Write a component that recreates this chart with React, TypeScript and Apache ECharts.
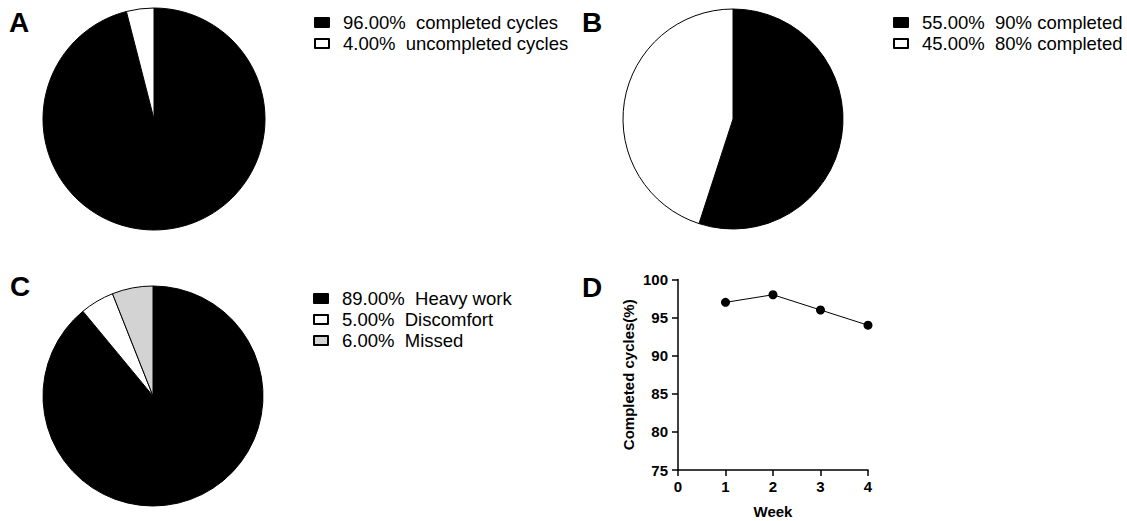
import React, { useEffect, useRef } from "react";
import * as echarts from "echarts";

const pieALabels = ["completed cycles", "uncompleted cycles"];
const pieAValues = [96, 4];
const pieBLabels = ["90% completed", "80% completed"];
const pieBValues = [55, 45];
const pieCLabels = ["Heavy work", "Discomfort", "Missed"];
const pieCValues = [89, 5, 6];
const sliceColors = ["#000000", "#ffffff", "#d3d3d3"];

const weeks = [1, 2, 3, 4];
const completedPct = [97, 98, 96, 94];
const xTicks = [0, 1, 2, 3, 4];
const yTicks = [75, 80, 85, 90, 95, 100];

const FONT = "'Liberation Sans', Arial, Helvetica, sans-serif";

function pieData(labels: string[], values: number[]) {
  return labels.map((n, i) => ({
    name: n,
    value: values[i],
    itemStyle: { color: sliceColors[i], borderColor: "#000", borderWidth: 1 },
  }));
}

function pctLookup(labels: string[], values: number[]) {
  const total = values.reduce((a, b) => a + b, 0);
  const m: Record<string, string> = {};
  labels.forEach((n, i) => {
    m[n] = ((values[i] / total) * 100).toFixed(2) + "%  " + n;
  });
  return m;
}

export default function App() {
  const ref = useRef<HTMLDivElement>(null);
  useEffect(() => {
    if (!ref.current) return;
    const chart = echarts.init(ref.current, undefined, { renderer: "svg" });
    const lookup: Record<string, string> = {
      ...pctLookup(pieALabels, pieAValues),
      ...pctLookup(pieBLabels, pieBValues),
      ...pctLookup(pieCLabels, pieCValues),
    };
    const legendBase = {
      orient: "vertical" as const,
      icon: "rect",
      itemWidth: 14,
      itemHeight: 9,
      itemGap: 2,
      selectedMode: false,
      formatter: (n: string) => lookup[n],
      textStyle: {
        fontFamily: FONT,
        fontSize: 18.5,
        color: "#000",
        padding: [0, 0, 0, 9],
      },
    };
    const labelStyle = {
      fontFamily: FONT,
      fontSize: 28,
      fontWeight: "bold" as const,
      fill: "#000",
    };
    chart.setOption({
      animation: false,
      backgroundColor: "#fff",
      graphic: [
        { type: "text", left: 9, top: 8, style: { ...labelStyle, text: "A" } },
        { type: "text", left: 582, top: 8, style: { ...labelStyle, text: "B" } },
        { type: "text", left: 10, top: 272, style: { ...labelStyle, text: "C" } },
        { type: "text", left: 582, top: 273, style: { ...labelStyle, text: "D" } },
      ],
      legend: [
        { ...legendBase, left: 309, top: 8, data: pieALabels },
        { ...legendBase, left: 888, top: 8, data: pieBLabels },
        { ...legendBase, left: 308, top: 284, data: pieCLabels },
      ],
      grid: { left: 678, right: 259, top: 279.5, bottom: 51 },
      xAxis: {
        type: "value",
        min: xTicks[0],
        max: xTicks[xTicks.length - 1],
        interval: 1,
        name: "Week",
        nameLocation: "middle",
        nameGap: 34,
        nameTextStyle: { fontFamily: FONT, fontSize: 15, fontWeight: "bold", color: "#000" },
        axisLine: { lineStyle: { color: "#000", width: 1.5 } },
        axisTick: { show: true, length: 6, lineStyle: { color: "#000", width: 1.5 } },
        axisLabel: { fontFamily: FONT, fontSize: 15, fontWeight: "bold", color: "#000", margin: 9 },
        splitLine: { show: false },
      },
      yAxis: {
        type: "value",
        min: yTicks[0],
        max: yTicks[yTicks.length - 1],
        interval: 5,
        name: "Completed cycles(%)",
        nameLocation: "middle",
        nameGap: 42,
        nameTextStyle: { fontFamily: FONT, fontSize: 15, fontWeight: "bold", color: "#000" },
        axisLine: { show: true, lineStyle: { color: "#000", width: 1.5 } },
        axisTick: { show: true, length: 6, lineStyle: { color: "#000", width: 1.5 } },
        axisLabel: { fontFamily: FONT, fontSize: 15, fontWeight: "bold", color: "#000", margin: 10 },
        splitLine: { show: false },
      },
      series: [
        {
          type: "pie",
          center: [154, 119],
          radius: 111,
          startAngle: 90,
          clockwise: true,
          label: { show: false },
          labelLine: { show: false },
          emphasis: { disabled: true },
          data: pieData(pieALabels, pieAValues),
        },
        {
          type: "pie",
          center: [733, 119],
          radius: 110,
          startAngle: 90,
          clockwise: true,
          label: { show: false },
          labelLine: { show: false },
          emphasis: { disabled: true },
          data: pieData(pieBLabels, pieBValues),
        },
        {
          type: "pie",
          center: [153, 396],
          radius: 110,
          startAngle: 90,
          clockwise: true,
          label: { show: false },
          labelLine: { show: false },
          emphasis: { disabled: true },
          data: pieData(pieCLabels, pieCValues),
        },
        {
          type: "line",
          data: weeks.map((w, i) => [w, completedPct[i]]),
          symbol: "circle",
          symbolSize: 9,
          itemStyle: { color: "#000" },
          lineStyle: { color: "#000", width: 1 },
        },
      ],
    });
    return () => chart.dispose();
  }, []);
  return (
    <div
      ref={ref}
      style={{ position: "fixed", left: 0, top: 0, width: 1127, height: 521 }}
    />
  );
}
